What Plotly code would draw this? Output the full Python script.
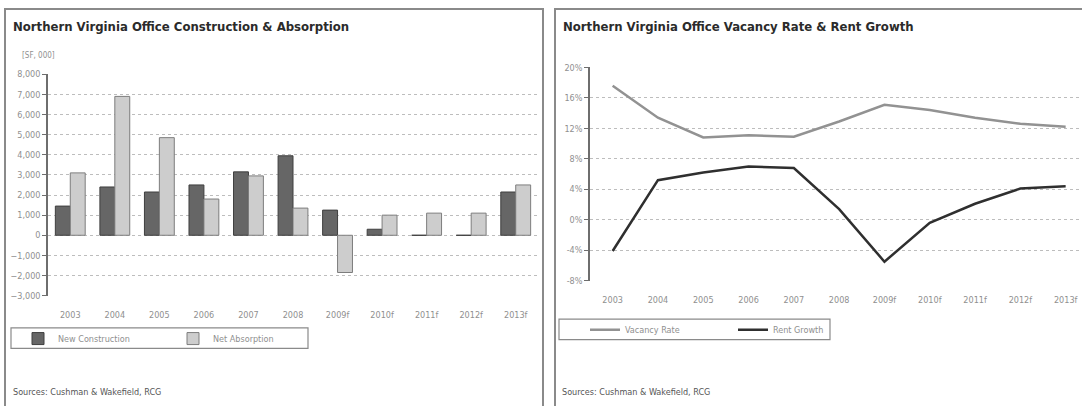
import plotly.graph_objects as go

W, H = 1082, 406

YEARS = ["2003", "2004", "2005", "2006", "2007", "2008", "2009f", "2010f", "2011f", "2012f", "2013f"]
NEW_CONSTRUCTION = [1450, 2400, 2150, 2500, 3150, 3950, 1250, 300, 0, 0, 2150]
NET_ABSORPTION = [3100, 6900, 4850, 1800, 2950, 1350, -1850, 1000, 1100, 1100, 2500]
VACANCY_RATE = [17.6, 13.4, 10.8, 11.1, 10.9, 12.9, 15.1, 14.4, 13.4, 12.6, 12.2]
RENT_GROWTH = [-4.1, 5.2, 6.2, 7.0, 6.8, 1.4, -5.5, -0.4, 2.1, 4.1, 4.4]

LEFT_TICKS = list(range(-3000, 8001, 1000))
RIGHT_TICKS = list(range(-8, 21, 4))

FONT = "Liberation Sans Narrow, DejaVu Sans Condensed, Arial Narrow, sans-serif"
GRID = "#bdbdbd"
AXIS = "#6e6e6e"
TXT = "#8f8f8f"


def px_x(p):
    return p / W


def px_y(p):
    return 1 - p / H


fig = go.Figure()

fig.add_trace(go.Bar(
    x=YEARS, y=NEW_CONSTRUCTION, name="New Construction",
    marker={"color": "#666666", "line": {"color": "#3f3f3f", "width": 1}},
    xaxis="x", yaxis="y", legend="legend",
))
fig.add_trace(go.Bar(
    x=YEARS, y=NET_ABSORPTION, name="Net Absorption",
    marker={"color": "#cdcdcd", "line": {"color": "#7d7d7d", "width": 1}},
    xaxis="x", yaxis="y", legend="legend",
))
fig.add_trace(go.Scatter(
    x=YEARS, y=VACANCY_RATE, name="Vacancy Rate", mode="lines",
    line={"color": "#929292", "width": 2.5},
    xaxis="x2", yaxis="y2", legend="legend2",
))
fig.add_trace(go.Scatter(
    x=YEARS, y=RENT_GROWTH, name="Rent Growth", mode="lines",
    line={"color": "#2f2f2f", "width": 2.5},
    xaxis="x2", yaxis="y2", legend="legend2",
))

tick_font = {"family": FONT, "size": 9, "color": TXT}
n = len(YEARS)
bounds = [i + 0.5 for i in range(n - 1)]
right_range = [-0.5, n - 0.5 - (590 + n * 45.3 - W) / 45.3]

left_dom_y = [px_y(298), px_y(71)]
right_dom_y = [px_y(282.7), px_y(64)]
left_zero = left_dom_y[0] + (0 - LEFT_TICKS[0]) / (LEFT_TICKS[-1] - LEFT_TICKS[0]) * (left_dom_y[1] - left_dom_y[0])
right_zero = right_dom_y[0] + (0 - RIGHT_TICKS[0]) / (RIGHT_TICKS[-1] - RIGHT_TICKS[0]) * (right_dom_y[1] - right_dom_y[0])

fig.update_layout(
    width=W, height=H, autosize=False,
    margin={"l": 0, "r": 0, "t": 0, "b": 0},
    paper_bgcolor="white", plot_bgcolor="white",
    font={"family": FONT, "size": 9, "color": TXT},
    barmode="group", bargap=0.33, bargroupgap=0.0,
    xaxis={
        "domain": [px_x(48), px_x(538)], "anchor": "y", "type": "category",
        "range": [-0.5, n - 0.5], "showline": False, "showgrid": False,
        "ticks": "", "tickfont": tick_font, "ticklabelstandoff": 12,
    },
    yaxis={
        "domain": left_dom_y, "anchor": "x", "range": [LEFT_TICKS[0], LEFT_TICKS[-1]],
        "tickvals": LEFT_TICKS, "tickformat": ",d", "tickfont": tick_font,
        "showline": True, "linecolor": AXIS, "linewidth": 1.5,
        "ticks": "outside", "ticklen": 4, "tickcolor": AXIS,
        "showgrid": True, "gridcolor": GRID, "griddash": "dot", "gridwidth": 1,
        "zeroline": False,
    },
    xaxis3={
        "overlaying": "x", "anchor": "free", "position": left_zero, "side": "bottom",
        "range": [-0.5, n - 0.5], "tickvals": bounds, "showticklabels": False,
        "showline": True, "linecolor": "#777777", "linewidth": 1,
        "ticks": "outside", "ticklen": 4, "tickcolor": "#777777",
        "showgrid": False, "zeroline": False,
    },
    xaxis2={
        "domain": [px_x(590), 1.0], "anchor": "y2", "type": "category",
        "range": right_range, "showline": False, "showgrid": False,
        "ticks": "", "tickfont": tick_font, "ticklabelstandoff": 12,
    },
    yaxis2={
        "domain": right_dom_y, "anchor": "x2", "range": [RIGHT_TICKS[0], RIGHT_TICKS[-1]],
        "tickvals": RIGHT_TICKS, "ticktext": [f"{v}%" for v in RIGHT_TICKS], "tickfont": tick_font,
        "showline": True, "linecolor": AXIS, "linewidth": 1.5,
        "ticks": "outside", "ticklen": 4, "tickcolor": AXIS,
        "showgrid": True, "gridcolor": GRID, "griddash": "dot", "gridwidth": 1,
        "zeroline": False,
    },
    xaxis4={
        "overlaying": "x2", "anchor": "free", "position": right_zero, "side": "bottom",
        "range": right_range, "tickvals": bounds, "showticklabels": False,
        "showline": True, "linecolor": "#b0b0b0", "linewidth": 2.5,
        "ticks": "outside", "ticklen": 4, "tickcolor": "#777777",
        "showgrid": False, "zeroline": False,
    },
    legend={
        "orientation": "h", "x": px_x(18), "y": px_y(342), "xanchor": "left", "yanchor": "middle",
        "bgcolor": "rgba(0,0,0,0)", "borderwidth": 0, "entrywidth": 110, "entrywidthmode": "pixels",
        "font": {"family": FONT, "size": 9, "color": TXT}, "itemclick": False,
    },
    legend2={
        "orientation": "h", "x": px_x(585), "y": px_y(333), "xanchor": "left", "yanchor": "middle",
        "bgcolor": "rgba(0,0,0,0)", "borderwidth": 0, "entrywidth": 103, "entrywidthmode": "pixels",
        "font": {"family": FONT, "size": 9, "color": TXT}, "itemclick": False,
    },
    showlegend=True,
)

shapes = [
    # panel frames
    {"type": "rect", "xref": "paper", "yref": "paper", "x0": px_x(5), "x1": px_x(543), "y0": -0.05, "y1": px_y(4),
     "line": {"color": "#8a8a8a", "width": 2}},
    {"type": "rect", "xref": "paper", "yref": "paper", "x0": px_x(555), "x1": 1.05, "y0": -0.05, "y1": px_y(4),
     "line": {"color": "#8a8a8a", "width": 2}},
    # legend boxes
    {"type": "rect", "xref": "paper", "yref": "paper", "x0": px_x(11), "x1": px_x(308), "y0": px_y(352), "y1": px_y(331),
     "line": {"color": "#8a8a8a", "width": 1.2}},
    {"type": "rect", "xref": "paper", "yref": "paper", "x0": px_x(559), "x1": px_x(830), "y0": px_y(343), "y1": px_y(322),
     "line": {"color": "#8a8a8a", "width": 1.2}},
]

title_font = {"family": FONT, "size": 13, "color": "#2b2b2b"}
small_font = {"family": FONT, "size": 9, "color": "#555555"}
annotations = [
    {"text": "<b>Northern Virginia Office Construction & Absorption</b>", "x": px_x(11), "y": px_y(22),
     "font": title_font},
    {"text": "<b>Northern Virginia Office Vacancy Rate & Rent Growth</b>", "x": px_x(561), "y": px_y(22),
     "font": title_font},
    {"text": "[SF, 000]", "x": px_x(20), "y": px_y(52), "font": {"family": FONT, "size": 8, "color": TXT}},
    {"text": "Sources: Cushman & Wakefield, RCG", "x": px_x(11), "y": px_y(397), "font": small_font},
    {"text": "Sources: Cushman & Wakefield, RCG", "x": px_x(560), "y": px_y(397), "font": small_font},
]
for a in annotations:
    a.update({"xref": "paper", "yref": "paper", "xanchor": "left", "yanchor": "middle", "showarrow": False})

fig.update_layout(shapes=shapes, annotations=annotations)

# drop the default 8px page margin so the figure sits at the window's corner
fig.write_html(
    "out.html",
    config={"displayModeBar": False},
    post_script="document.body.style.margin='0px';",
)
